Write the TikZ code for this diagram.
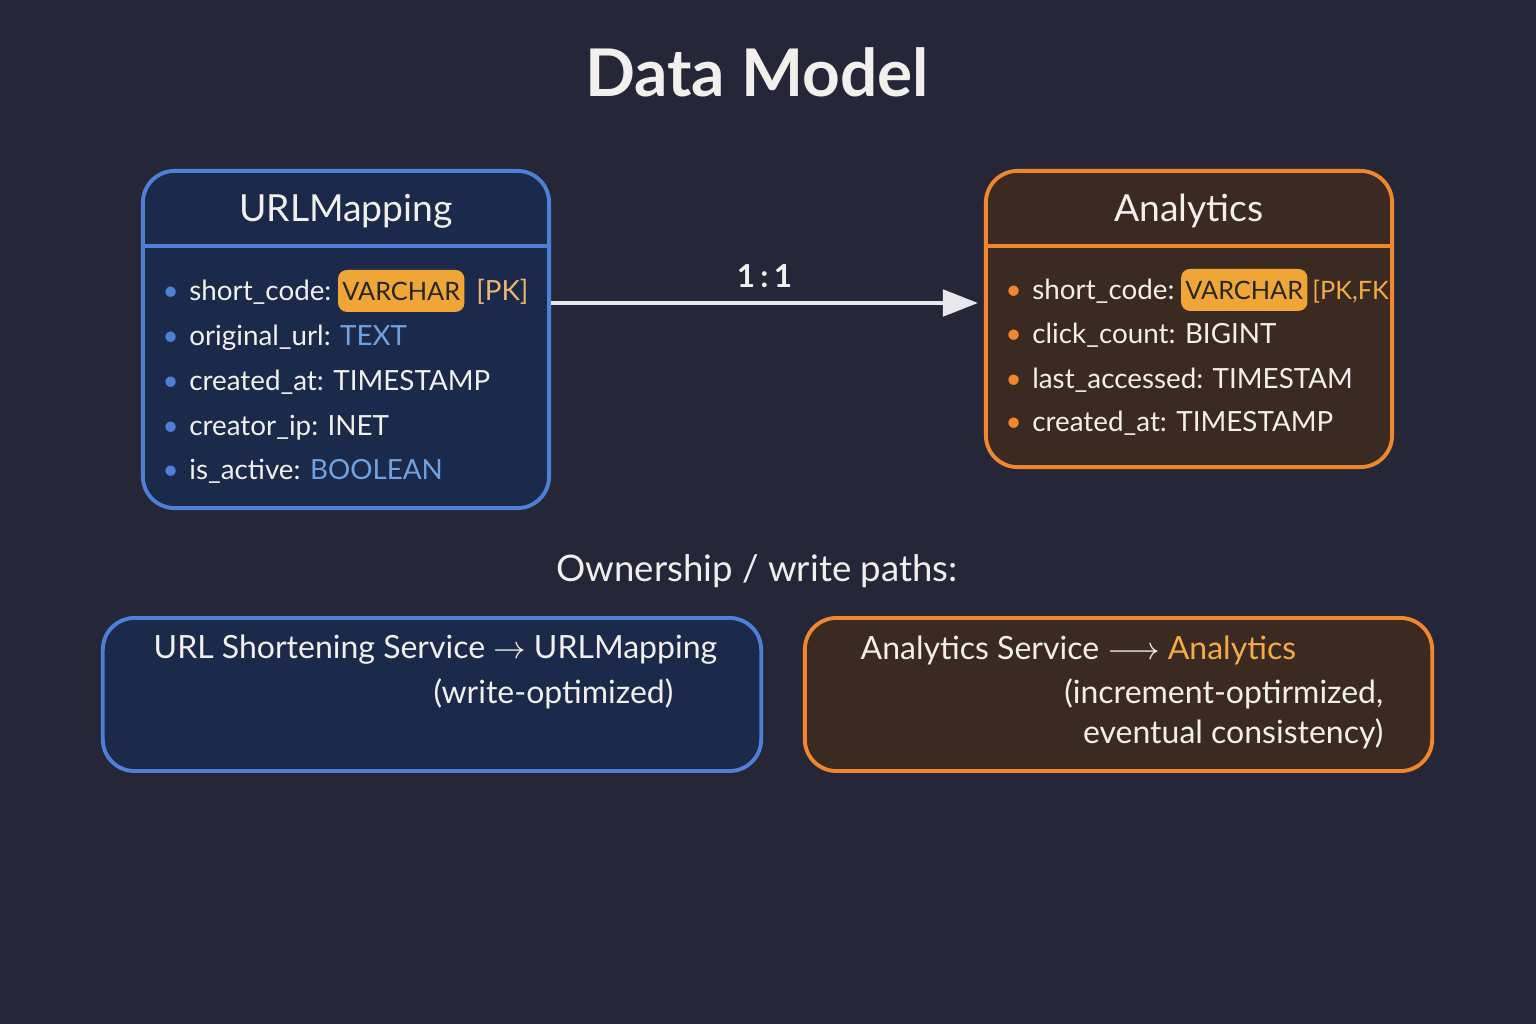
\documentclass[tikz,border=0pt]{standalone}
\usepackage{fontspec}
\setmainfont{Lato}
\usepackage{xcolor}
\usetikzlibrary{shapes,arrows.meta,positioning,fit,calc}

\definecolor{bgcol}{RGB}{37,39,57}
\definecolor{ublue}{RGB}{77,128,214}
\definecolor{ufill}{RGB}{27,42,74}
\definecolor{tblue}{RGB}{112,162,226}
\definecolor{oline}{RGB}{240,135,45}
\definecolor{ofill}{RGB}{58,42,34}
\definecolor{badgecol}{RGB}{240,165,55}
\definecolor{pkcol}{RGB}{235,182,112}
\definecolor{fkcol}{RGB}{246,170,70}
\definecolor{txt}{RGB}{242,240,236}
\definecolor{arrowcol}{RGB}{232,232,236}

\begin{document}
\begin{tikzpicture}[
    x=0.01cm, y=0.01cm,
    table/.style={rectangle, rounded corners=9pt, line width=1.1pt},
    head/.style={rectangle, minimum height=0.75cm, text=txt, font=\fontsize{10.6}{12}\selectfont},
    field/.style={anchor=base west, inner sep=0pt, text=txt, font=\fontsize{7.9}{10}\selectfont},
    badge/.style={rectangle, rounded corners=2.5pt, fill=badgecol, text=black!85, inner xsep=1.2pt, minimum height=0.29cm, font=\fontsize{7.2}{9}\selectfont},
    service/.style={rectangle, rounded corners=9pt, line width=1.1pt, minimum height=1.53cm},
    svctxt/.style={inner sep=0pt, text=txt, font=\fontsize{9.1}{11.4}\selectfont},
    relarrow/.style={-{Triangle[length=10pt, width=7.5pt]}, line width=1.2pt, draw=arrowcol},
]
    % canvas
    \fill[bgcol] (0,0) rectangle (1536,-1024);
    \useasboundingbox (0,0) rectangle (1536,-1024);

    \node[text=txt, font=\fontsize{18.7}{22}\selectfont\bfseries] (title) at (757,-72) {Data Model};

    % URLMapping table
    \node[table, draw=ublue, fill=ufill, minimum width=4.06cm, minimum height=3.37cm] (urlbox) at (346,-339.5) {};
    \node[head, anchor=north, minimum width=4.06cm, yshift=-1.2pt] (urlhead) at (urlbox.north) {URLMapping};
    \draw[ublue, line width=1.1pt] (urlbox.west |- 0,-246) -- (urlbox.east |- 0,-246);

    \node[field] (u1) at (162,-300) {\textcolor{ublue}{\textbullet}\hspace{3pt}short\_code:};
    \node[badge, base right=1.5pt of u1] (u1type) {VARCHAR};
    \node[field, text=pkcol, base right=3pt of u1type] (u1key) {[PK]};
    \node[field] (u2) at (162,-345) {\textcolor{ublue}{\textbullet}\hspace{3pt}original\_url: \textcolor{tblue}{TEXT}};
    \node[field] (u3) at (162,-390) {\textcolor{ublue}{\textbullet}\hspace{3pt}created\_at: TIMESTAMP};
    \node[field] (u4) at (162,-435) {\textcolor{ublue}{\textbullet}\hspace{3pt}creator\_ip: INET};
    \node[field] (u5) at (162,-479) {\textcolor{ublue}{\textbullet}\hspace{3pt}is\_active: \textcolor{tblue}{BOOLEAN}};

    % Analytics table
    \node[table, draw=oline, fill=ofill, minimum width=4.06cm, minimum height=2.96cm] (anbox) at (1189,-319) {};
    \node[head, anchor=north, minimum width=4.06cm, yshift=-1.2pt] (anhead) at (anbox.north) {Analytics};
    \draw[oline, line width=1.1pt] (anbox.west |- 0,-246) -- (anbox.east |- 0,-246);

    \node[field] (a1) at (1005,-299) {\textcolor{oline}{\textbullet}\hspace{3pt}short\_code:};
    \node[badge, base right=1.5pt of a1] (a1type) {VARCHAR};
    \node[field, text=fkcol, font=\fontsize{7.2}{9}\selectfont, base right=1pt of a1type] (a1key) {[PK,FK};
    \node[field] (a2) at (1005,-343) {\textcolor{oline}{\textbullet}\hspace{3pt}click\_count: BIGINT};
    \node[field] (a3) at (1005,-388) {\textcolor{oline}{\textbullet}\hspace{3pt}last\_accessed: TIMESTAM};
    \node[field] (a4) at (1005,-431) {\textcolor{oline}{\textbullet}\hspace{3pt}created\_at: TIMESTAMP};

    % 1:1 relation
    \draw[relarrow] (urlbox.east |- 0,-303) -- node[above=0.5pt, text=txt, font=\fontsize{9}{11}\selectfont\bfseries] (rel) {1\,:\,1} ([xshift=-1.7pt]anbox.west |- 0,-303);

    % ownership
    \node[text=txt, font=\fontsize{10.4}{12.5}\selectfont] (own) at (757,-571) {Ownership / write paths:};

    \node[service, draw=ublue, fill=ufill, minimum width=6.58cm] (urlsvc) at (432,-694.5) {};
    \node[svctxt, anchor=west] (urlsvc1) at (153,-650) {URL Shortening Service $\rightarrow$ URLMapping};
    \node[svctxt, anchor=east] (urlsvc2) at (674,-694) {(write-optimized)};

    \node[service, draw=oline, fill=ofill, minimum width=6.27cm] (ansvc) at (1118.5,-694.5) {};
    \node[svctxt, anchor=west] (ansvc1) at (860,-650) {Analytics Service $\longrightarrow$ \textcolor{fkcol}{Analytics}};
    \node[svctxt, anchor=east, align=right] (ansvc2) at (1384,-714) {(increment-optirmized,\\eventual consistency)};
\end{tikzpicture}
\end{document}
